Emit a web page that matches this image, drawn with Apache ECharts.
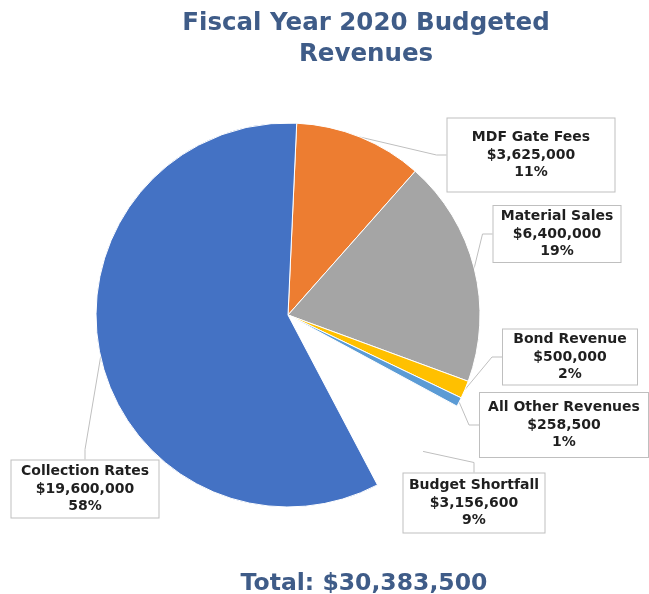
<!DOCTYPE html>
<html>
<head>
<meta charset="utf-8">
<script src="https://cdn.jsdelivr.net/npm/echarts@6/dist/echarts.min.js"></script>
<style>
html,body{margin:0;padding:0;background:#fff;}
#chart{width:649px;height:594px;}
</style>
</head>
<body>
<div id="chart"></div>
<script>
// ---- data ----
const categories = ['MDF Gate Fees', 'Material Sales', 'Bond Revenue', 'All Other Revenues', 'Budget Shortfall', 'Collection Rates'];
const values = [3625000, 6400000, 500000, 258500, 3156600, 19600000];
const titleText = 'Fiscal Year 2020 Budgeted\nRevenues';
const shortfallName = 'Budget Shortfall';

// ---- styles / layout ----
const colors = ['#ED7D31', '#A5A5A5', '#FFC000', '#5B9BD5', 'rgba(0,0,0,0)', '#4472C4'];
// label boxes: [centerX, centerY, width, height]
const labelBoxes = [
  [531, 155, 169, 75],
  [557, 234, 129, 58],
  [570, 357, 136, 57],
  [564, 425, 170, 66],
  [474, 503, 143, 61],
  [85, 489, 149, 59]
];
const LINE_H = 17.5;

function fmtMoney(v) {
  return '$' + v.toString().replace(/\B(?=(\d{3})+(?!\d))/g, ',');
}
const total = values.reduce((s, v, i) => categories[i] === shortfallName ? s : s + v, 0);

const chart = echarts.init(document.getElementById('chart'), null, {renderer: 'canvas'});
const font = '"DejaVu Sans", sans-serif';

const data = categories.map((c, i) => {
  const b = labelBoxes[i];
  const vp = Math.max(0, (b[3] - 3 * LINE_H) / 2 - 1);
  return {
    name: c,
    value: values[i],
    itemStyle: {color: colors[i], borderColor: i === 4 ? 'rgba(0,0,0,0)' : '#fff', borderWidth: i === 4 ? 0 : 1},
    label: {width: b[2] - 2, padding: [vp, 0, vp, 0]}
  };
});

chart.setOption({
  animation: false,
  title: [
    {
      text: titleText,
      left: 361,
      top: 3,
      textAlign: 'center',
      textStyle: {fontFamily: font, fontSize: 24.5, fontWeight: 'bold', color: '#3F5C88', lineHeight: 31}
    },
    {
      text: 'Total: ' + fmtMoney(total),
      left: 359,
      top: 564,
      textAlign: 'center',
      textStyle: {fontFamily: font, fontSize: 23.5, fontWeight: 'bold', color: '#3F5C88', lineHeight: 30}
    }
  ],
  series: [{
    type: 'pie',
    center: [288, 315],
    radius: 192,
    startAngle: 87.4,
    clockwise: true,
    percentPrecision: 0,
    silent: true,
    label: {
      show: true,
      formatter: p => p.name + '\n' + fmtMoney(p.value) + '\n' + p.percent + '%',
      fontFamily: font,
      fontSize: 14,
      fontWeight: 'bold',
      color: '#1F1F1F',
      lineHeight: LINE_H,
      align: 'center',
      backgroundColor: '#fff',
      borderColor: '#BFBFBF',
      borderWidth: 1
    },
    labelLine: {show: true, length: 10, length2: 10, lineStyle: {color: '#BFBFBF', width: 1}},
    labelLayout: function (params) {
      const b = labelBoxes[params.dataIndex];
      return {x: b[0], y: b[1], align: 'center', verticalAlign: 'middle'};
    },
    data: data
  }]
});
</script>
</body>
</html>
